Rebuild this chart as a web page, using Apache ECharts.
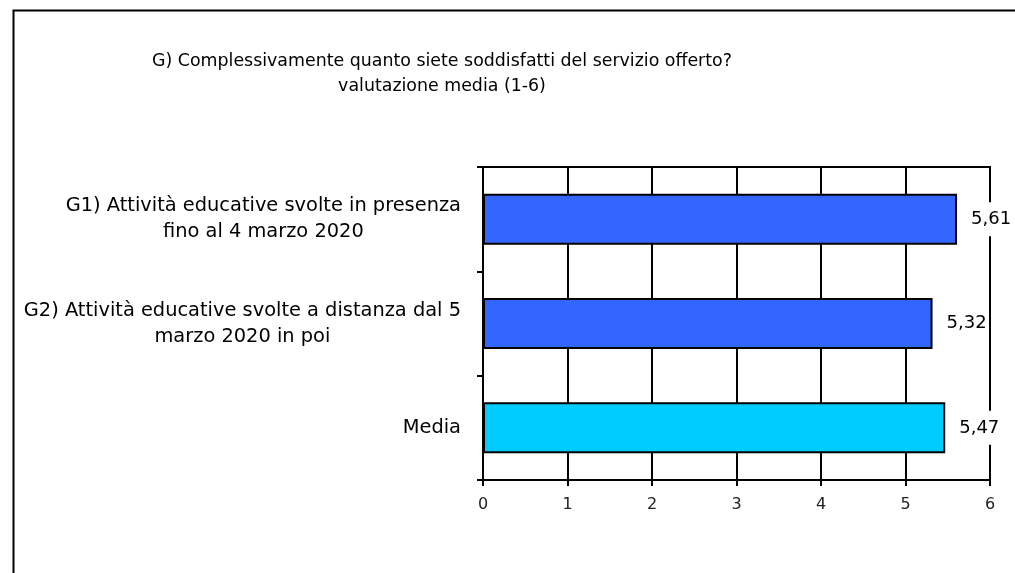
<!DOCTYPE html>
<html>
<head>
<meta charset="utf-8">
<script src="https://cdn.jsdelivr.net/npm/echarts@6/dist/echarts.min.js"></script>
<style>
  html, body { margin: 0; padding: 0; background: #fff; }
</style>
</head>
<body>
<div id="chart" style="width:1015px;height:573px;"></div>
<script>
// dati
const categories = [
    'G1) Attività educative svolte in presenza\nfino al 4 marzo 2020',
    'G2) Attività educative svolte a distanza dal 5\nmarzo 2020 in poi',
    'Media'
];
const values = [5.61, 5.32, 5.47];
const barColors = ['#3366FF', '#3366FF', '#00CCFF'];
const xTicks = [0, 1, 2, 3, 4, 5, 6];

const chart = echarts.init(document.getElementById('chart'));

const option = {
    backgroundColor: '#fff',
    animation: false,
    textStyle: { fontFamily: 'DejaVu Sans' },
    title: {
        text: 'G) Complessivamente quanto siete soddisfatti del servizio offerto?\nvalutazione media (1-6)',
        left: 437,
        top: 44,
        textAlign: 'center',
        textStyle: {
            fontSize: 17.4,
            fontWeight: 'normal',
            color: '#000',
            lineHeight: 25,
            fontFamily: 'DejaVu Sans'
        }
    },
    graphic: [{
        type: 'rect',
        left: 11,
        top: 8,
        shape: { width: 1100, height: 700 },
        style: { fill: 'none', stroke: '#000', lineWidth: 2 },
        silent: true
    }],
    grid: {
        left: 483,
        right: 25,
        top: 167,
        bottom: 93,
        show: true,
        borderColor: '#000',
        borderWidth: 2
    },
    xAxis: {
        type: 'value',
        min: xTicks[0],
        max: xTicks[xTicks.length - 1],
        interval: 1,
        axisLine: { show: true, lineStyle: { color: '#000', width: 2 } },
        axisTick: { show: true, length: 6, lineStyle: { color: '#000', width: 2 } },
        splitLine: { show: true, lineStyle: { color: '#000', width: 2 } },
        axisLabel: {
            color: '#222',
            fontSize: 16,
            margin: 17,
            formatter: v => String(v)
        }
    },
    yAxis: {
        type: 'category',
        inverse: true,
        data: categories,
        axisLine: { show: true, lineStyle: { color: '#000', width: 2 } },
        axisTick: { show: true, length: 6, lineStyle: { color: '#000', width: 2 } },
        splitLine: { show: false },
        axisLabel: {
            margin: 22,
            align: 'right',
            formatter: v => v.split('\n').map(s => '{c|' + s + '}').join('\n'),
            rich: {
                c: {
                    align: 'center',
                    fontSize: 19.4,
                    lineHeight: 26,
                    color: '#000',
                    fontFamily: 'DejaVu Sans'
                }
            }
        }
    },
    series: [{
        type: 'bar',
        barWidth: 51,
        data: values.map((v, i) => ({
            value: v,
            itemStyle: { color: barColors[i] }
        })),
        itemStyle: {
            borderColor: '#000',
            borderWidth: 2
        },
        label: {
            show: true,
            position: 'right',
            distance: 12,
            formatter: p => p.value.toFixed(2).replace('.', ','),
            color: '#000',
            fontSize: 18,
            backgroundColor: '#fff',
            padding: [8, 2],
            fontFamily: 'DejaVu Sans'
        }
    }]
};

chart.setOption(option);
</script>
</body>
</html>
